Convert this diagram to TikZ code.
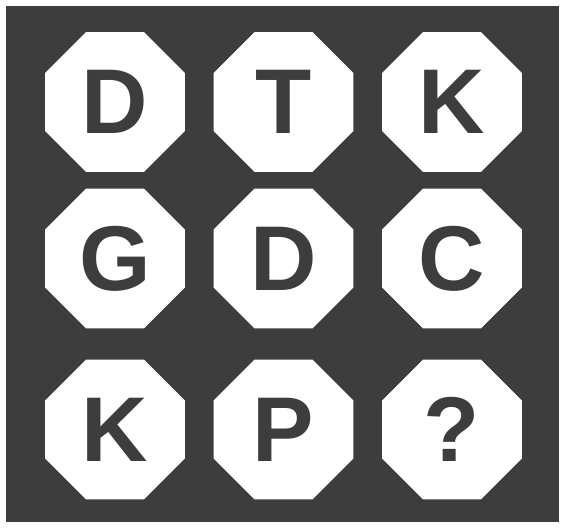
\documentclass[tikz,border=0pt]{standalone}
\usepackage{fontspec}
\setsansfont{Liberation Sans}
\usetikzlibrary{shapes.geometric}

\begin{document}
\begin{tikzpicture}[x=1pt,y=1pt]
	\colorlet{panel dark}{black!76}
	\colorlet{tile area}{white}

	\tikzset{
		tile/.style={regular polygon, regular polygon sides=8, minimum size=151.5pt,
			inner sep=0pt, fill=tile area, text=panel dark,
			font=\sffamily\bfseries\fontsize{92}{92}\selectfont},
	}

	\useasboundingbox (0,0) rectangle (564,528);
	\fill[white] (0,0) rectangle (564,528);
	\fill[panel dark] (6,6) rectangle (559,522); %panel

	% top row
	\node[tile] (tileD) at (115,426) {D};
	\node[tile] (tileT) at (283.5,426) {T};
	\node[tile] (tileK) at (452,426) {K};
	% middle row
	\node[tile] (tileG) at (115,269.5) {G};
	\node[tile] (tileDmid) at (283.5,269.5) {D};
	\node[tile] (tileC) at (452,269.5) {C};
	% bottom row
	\node[tile] (tileKlow) at (115,98.5) {K};
	\node[tile] (tileP) at (283.5,98.5) {P};
	\node[tile] (tileQ) at (452,98.5) {?};
\end{tikzpicture}
\end{document}
